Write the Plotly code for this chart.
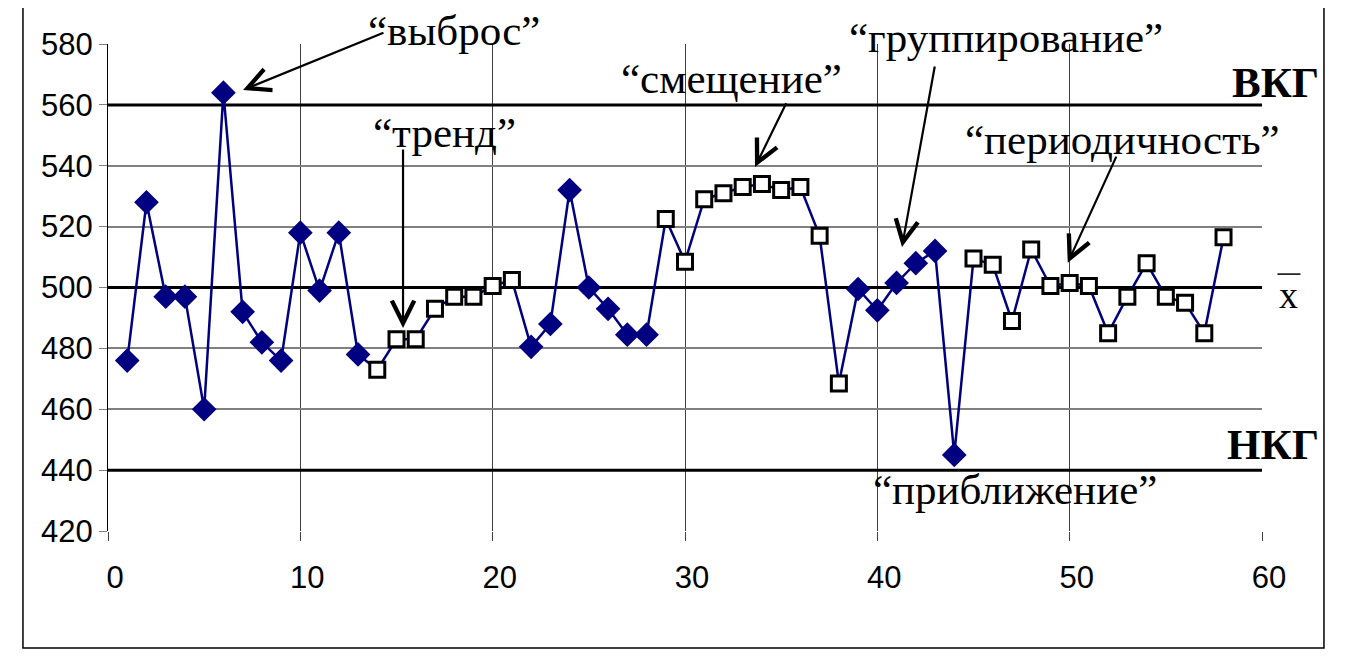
import plotly.graph_objects as go

# ---- data ----
sample_no = list(range(1, 59))
values = [476, 528, 497, 497, 460, 564, 492, 482, 476, 518,
          499, 518, 478, 473, 483, 483, 493, 497, 497, 500.5,
          502.5, 480.5, 488, 532, 500, 493, 484.5, 484.5, 522.5, 508.5,
          529, 531, 533, 534, 532, 533, 517, 468.5, 499.5, 492.5,
          501.5, 508, 512, 445, 509.5, 507.5, 489, 512.5, 500.5, 501.5,
          500.5, 485, 497, 508, 497, 495, 485, 516.5]
# marker type per point: "d" = filled diamond, "s" = open square
kinds = (["d"] * 13 + ["s"] * 8 + ["d"] * 7 + ["s"] * 10 +
         ["d"] * 6 + ["s"] * 14)
limit_values = [560, 500, 440]
limit_labels = ["ВКГ", "x", "НКГ"]
x_ticks = [0, 10, 20, 30, 40, 50, 60]
y_ticks = [420, 440, 460, 480, 500, 520, 540, 560, 580]
X_RANGE = [0, 60]
Y_RANGE = [420, 580]

NAVY = "#000080"

fig = go.Figure()

# control lines (drawn as traces so they sit above the grid)
for v in limit_values:
    fig.add_trace(go.Scatter(x=X_RANGE, y=[v, v], mode="lines",
                             line=dict(color="black", width=3),
                             hoverinfo="skip", showlegend=False))

# connecting line
fig.add_trace(go.Scatter(x=sample_no, y=values, mode="lines",
                         line=dict(color=NAVY, width=2.5),
                         showlegend=False, cliponaxis=False))

# diamonds
dx = [x for x, k in zip(sample_no, kinds) if k == "d"]
dy = [y for y, k in zip(values, kinds) if k == "d"]
fig.add_trace(go.Scatter(x=dx, y=dy, mode="markers",
                         marker=dict(symbol="diamond", color=NAVY, size=19, opacity=1,
                                     line=dict(color=NAVY, width=0)),
                         showlegend=False, cliponaxis=False))
# squares
sx = [x for x, k in zip(sample_no, kinds) if k == "s"]
sy = [y for y, k in zip(values, kinds) if k == "s"]
fig.add_trace(go.Scatter(x=sx, y=sy, mode="markers",
                         marker=dict(symbol="square", color="white", size=15, opacity=1,
                                     line=dict(color="black", width=3)),
                         showlegend=False, cliponaxis=False))

serif = "Liberation Serif"


def px_(x):
    return (x - X_RANGE[0]) / (X_RANGE[1] - X_RANGE[0])


def py_(y):
    return (y - Y_RANGE[0]) / (Y_RANGE[1] - Y_RANGE[0])


def label(text, x, y, size, bold=False):
    fig.add_annotation(xref="paper", yref="paper", x=px_(x), y=py_(y),
                       xanchor="center", yanchor="middle",
                       text=f"<b>{text}</b>" if bold else text, showarrow=False,
                       font=dict(family=serif, size=size, color="black"))


# limit labels
label("ВКГ", 60.7, 567.5, 43, bold=True)
label("НКГ", 60.55, 448.3, 43, bold=True)
label("x", 61.4, 497.5, 38)
fig.add_shape(type="line", xref="paper", yref="paper", x0=px_(60.8), x1=px_(62.0),
              y0=py_(504.4), y1=py_(504.4), line=dict(color="black", width=1.5))

# annotation texts
texts = [
    ("“выброс”", 18.0, 584.3),
    ("“тренд”", 17.47, 550.8),
    ("“смещение”", 32.44, 568.8),
    ("“группирование”", 46.7, 582.0),
    ("“периодичность”", 52.75, 548.5),
    ("“приближение”", 47.16, 433.5),
]
for t, xx, yy in texts:
    label(t, xx, yy, 43)

# arrows (head x, head y, tail x, tail y)
arrows = [
    (7.02, 564.9, 14.4, 583.9),
    (15.34, 486.7, 15.34, 545.8),
    (33.64, 539.6, 35.3, 561.0),
    (41.28, 513.3, 43.0, 573.1),
    (49.9, 508.1, 52.46, 543.5),
]
for hx, hy, tx, ty in arrows:
    fig.add_annotation(x=hx, y=hy, ax=tx, ay=ty, xref="x", yref="y",
                       axref="x", ayref="y", text="", showarrow=True,
                       arrowhead=5, arrowsize=2, arrowwidth=2.2, arrowcolor="black")

# outer frame
fig.add_shape(type="rect", xref="paper", yref="paper",
              x0=-0.0737, x1=1.0537, y0=-0.2402, y1=1.0893,
              line=dict(color="black", width=1.5))

fig.update_xaxes(range=X_RANGE, tickvals=x_ticks, ticks="outside", ticklen=9,
                 tickcolor="#404040", showgrid=True, gridcolor="#404040", gridwidth=1,
                 zeroline=False, showline=False,
                 tickfont=dict(family="Liberation Sans", size=31, color="black"),
                 ticklabelstandoff=10, ticklabelshift=7)
fig.update_yaxes(range=Y_RANGE, tickvals=y_ticks, ticks="outside", ticklen=8,
                 tickcolor="#808080", showgrid=True, gridcolor="#808080", gridwidth=1.5,
                 zeroline=False, showline=True, linecolor="black", linewidth=1,
                 tickfont=dict(family="Liberation Sans", size=31, color="black"))

fig.update_layout(
    width=1344, height=652,
    margin=dict(l=100, r=90, t=36, b=129),
    paper_bgcolor="white", plot_bgcolor="white",
    showlegend=False,
)

fig.write_html("out.html")
